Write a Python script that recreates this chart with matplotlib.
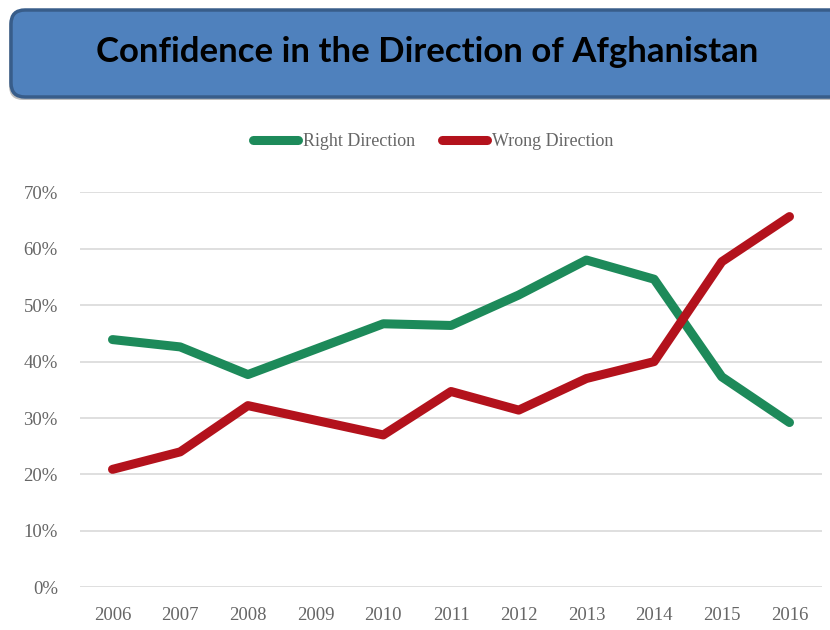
"""
Confidence in the direction of Afghanistan, 2006-2016.
"""

import matplotlib
matplotlib.use("Agg")
import matplotlib.pyplot as plt
from matplotlib.patches import FancyBboxPatch
from matplotlib.ticker import FuncFormatter

YEARS = ["2006", "2007", "2008", "2009", "2010", "2011",
         "2012", "2013", "2014", "2015", "2016"]
RIGHT = [43.9, 42.6, 37.7, 42.2, 46.7, 46.4, 51.8, 58.0, 54.6, 37.3, 29.2]
WRONG = [20.9, 24.0, 32.2, 29.6, 27.0, 34.7, 31.4, 37.0, 40.0, 57.7, 65.7]

GREEN = "#1d8a5a"
RED = "#b3121c"
GRAY_TXT = "#666666"
GRID = "#d9d9d9"
SERIF = ["Liberation Serif", "DejaVu Serif"]


def main() -> None:
    fig = plt.figure(figsize=(8.3, 6.3), dpi=100)

    # title banner
    shadow = FancyBboxPatch((0.09, 5.30), 8.4, 0.88,
                            boxstyle="round,pad=0,rounding_size=0.14",
                            transform=fig.dpi_scale_trans,
                            facecolor="#7f7f7f", edgecolor="none", alpha=0.5)
    fig.add_artist(shadow)
    banner = FancyBboxPatch((0.11, 5.33), 8.4, 0.87,
                            boxstyle="round,pad=0,rounding_size=0.14",
                            transform=fig.dpi_scale_trans,
                            facecolor="#4f81bd", edgecolor="#385d8a", linewidth=2.5)
    fig.add_artist(banner)
    fig.text(427 / 830, 1 - 52 / 630, "Confidence in the Direction of Afghanistan",
             ha="center", va="center", fontsize=25, fontweight="bold",
             family=["Lato", "DejaVu Sans"], color="black")

    ax = fig.add_axes([80 / 830, 1 - 587.3 / 630, 742 / 830, 395 / 630])
    x = range(len(YEARS))
    ax.plot(x, RIGHT, color=GREEN, lw=6.5, solid_capstyle="round",
            solid_joinstyle="round", label="Right Direction", zorder=3)
    ax.plot(x, WRONG, color=RED, lw=6.5, solid_capstyle="round",
            solid_joinstyle="round", label="Wrong Direction", zorder=3)

    ax.set_xlim(-0.48, len(YEARS) - 0.52)
    ax.set_ylim(0, 70)
    ax.set_yticks(range(0, 71, 10))
    ax.yaxis.set_major_formatter(FuncFormatter(lambda v, _: f"{v:.0f}%"))
    ax.set_xticks(list(x))
    ax.set_xticklabels(YEARS)
    ax.tick_params(length=0, colors=GRAY_TXT, labelsize=13.5)
    ax.tick_params(axis="x", pad=14)
    ax.tick_params(axis="y", pad=16)
    for lab in ax.get_xticklabels() + ax.get_yticklabels():
        lab.set_family(SERIF)
    ax.grid(axis="y", color=GRID, lw=1.2)
    ax.set_axisbelow(True)
    for s in ax.spines.values():
        s.set_visible(False)

    leg = fig.legend(loc="center", bbox_to_anchor=(433 / 830, 1 - 142 / 630),
                     ncol=2, frameon=False, handlelength=2.5, handletextpad=0.25,
                     columnspacing=1.5, prop={"family": SERIF, "size": 13})
    for t in leg.get_texts():
        t.set_color(GRAY_TXT)

    fig.savefig("out.png", dpi=100)
    plt.close(fig)


if __name__ == "__main__":
    main()
